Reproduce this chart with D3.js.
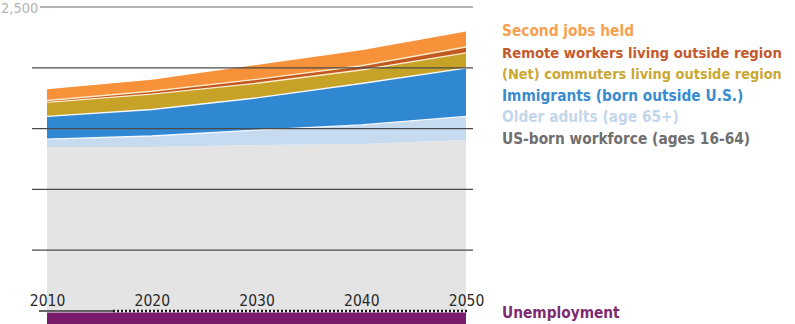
<!DOCTYPE html>
<html>
<head>
<meta charset="utf-8">
<script src="https://cdn.jsdelivr.net/npm/d3@7"></script>
<style>
  html, body { margin: 0; padding: 0; background: #fff; }
  svg { display: block; }
  text { font-family: "DejaVu Sans Condensed", "Liberation Sans Narrow", "Roboto", sans-serif; }
</style>
</head>
<body>
<svg id="chart" width="795" height="324"></svg>
<script>
// Regional workforce supply, thousands of workers, 2010–2050
const years = [2010, 2020, 2030, 2040, 2050];
const usBorn     = [1349, 1349, 1365, 1373, 1406];
const olderAdults = [65, 90, 123, 157, 194];
const immigrants = [186, 218, 264, 341, 398];
const commuters  = [115, 126, 121, 111, 124];
const remote     = [16, 24, 32, 35, 49];
const secondJobs = [92, 94, 118, 128, 128];
const unemployment = [140, 125, 115, 112, 115];

const gridValues = [500, 1000, 1500, 2000, 2500];
const topLabel = "2,500";

const seriesKeys = ["usBorn", "olderAdults", "immigrants", "commuters", "remote", "secondJobs"];
const seriesLabels = {
  secondJobs: "Second jobs held",
  remote: "Remote workers living outside region",
  commuters: "(Net) commuters living outside region",
  immigrants: "Immigrants (born outside U.S.)",
  olderAdults: "Older adults (age 65+)",
  usBorn: "US-born workforce (ages 16-64)"
};
const fills = {
  usBorn: "#e4e4e4",
  olderAdults: "#c6dbf0",
  immigrants: "#3188d2",
  commuters: "#c6a226",
  remote: "#c2581f",
  secondJobs: "#f7923a"
};
const labelColors = {
  secondJobs: "#f6a14f",
  remote: "#c45a2c",
  commuters: "#c9a833",
  immigrants: "#3a8bd0",
  olderAdults: "#c3d7ec",
  usBorn: "#6f6f6f"
};

const table = years.map((yr, i) => ({
  year: yr,
  usBorn: usBorn[i],
  olderAdults: olderAdults[i],
  immigrants: immigrants[i],
  commuters: commuters[i],
  remote: remote[i],
  secondJobs: secondJobs[i],
  unemployment: unemployment[i]
}));

const svg = d3.select("#chart");

const x = d3.scaleLinear().domain([2010, 2050]).range([47, 466]);
const y = d3.scaleLinear().domain([0, 2500]).range([311, 7]);

const stack = d3.stack().keys(seriesKeys);
const layers = stack(table);

const area = d3.area()
  .x(d => x(d.data.year))
  .y0(d => y(d[0]))
  .y1(d => y(d[1]));

svg.append("g").selectAll("path")
  .data(layers)
  .join("path")
  .attr("d", area)
  .attr("fill", d => fills[d.key]);

// thin light separators along the top of each layer
const topLine = d3.line().x(d => x(d.data.year)).y(d => y(d[1]));
svg.append("g").selectAll("path")
  .data(layers.filter(l => l.key !== "usBorn" && l.key !== "secondJobs"))
  .join("path")
  .attr("d", topLine)
  .attr("fill", "none")
  .attr("stroke", d => (d.key === "remote" || d.key === "commuters") ? "#fbe9c8" : "#f4f8fc")
  .attr("stroke-width", 1.3);

// unemployment shown below the zero line
const unempArea = d3.area()
  .x(d => x(d.year))
  .y0(y(0) + 1.5)
  .y1(d => y(-d.unemployment));
svg.append("path")
  .datum(table)
  .attr("d", unempArea)
  .attr("fill", "#7a1c6c");

// horizontal gridlines drawn over the areas
const grid = svg.append("g");
grid.selectAll("line")
  .data(gridValues)
  .join("line")
  .attr("x1", d => d === 2500 ? 40 : 32)
  .attr("x2", 473)
  .attr("y1", d => y(d))
  .attr("y2", d => y(d))
  .attr("stroke", d => d === 2500 ? "#9a9a9a" : "#4a4a4a")
  .attr("stroke-width", 1.3);

svg.append("text")
  .attr("x", 1)
  .attr("y", y(2500) + 6)
  .attr("fill", "#b4b4b4")
  .attr("font-size", 14.5)
  .text(topLabel);

// zero baseline: solid for observed years, dotted for projections
svg.append("line")
  .attr("x1", 39).attr("x2", x(2016.3))
  .attr("y1", y(0)).attr("y2", y(0))
  .attr("stroke", "#333").attr("stroke-width", 1.6);
svg.append("line")
  .attr("x1", x(2016.3)).attr("x2", x(2050) + 3)
  .attr("y1", y(0)).attr("y2", y(0))
  .attr("stroke", "#1a1a1a").attr("stroke-width", 2.6)
  .attr("stroke-dasharray", "2,2");

// year labels sitting on the baseline
const xAxis = d3.axisTop(x)
  .tickValues(years)
  .tickFormat(d3.format("d"))
  .tickSize(0)
  .tickPadding(5);
const ax = svg.append("g")
  .attr("transform", `translate(0,${y(0)})`)
  .call(xAxis);
ax.select(".domain").remove();
ax.selectAll("text")
  .attr("font-family", "DejaVu Sans Condensed, Liberation Sans Narrow, sans-serif")
  .attr("font-size", 15.5)
  .attr("fill", "#2a2a2a");

// legend
const legendKeys = ["secondJobs", "remote", "commuters", "immigrants", "olderAdults", "usBorn"];
const legendSize = 15.3;
const legend = svg.append("g").selectAll("text")
  .data(legendKeys)
  .join("text")
  .attr("x", 502)
  .attr("y", (d, i) => 36 + i * 21.6)
  .attr("font-size", legendSize)
  .attr("font-weight", "bold")
  .attr("fill", d => labelColors[d])
  .text(d => seriesLabels[d]);

// shrink any legend entry that would run past the right edge
const maxLegendWidth = 280;
legend.each(function () {
  const w = this.getComputedTextLength();
  if (w > maxLegendWidth) {
    d3.select(this).attr("font-size", legendSize * maxLegendWidth / w);
  }
});

svg.append("text")
  .attr("x", 502)
  .attr("y", 318)
  .attr("font-size", legendSize)
  .attr("font-weight", "bold")
  .attr("fill", "#7d2a70")
  .text("Unemployment");
</script>
</body>
</html>
